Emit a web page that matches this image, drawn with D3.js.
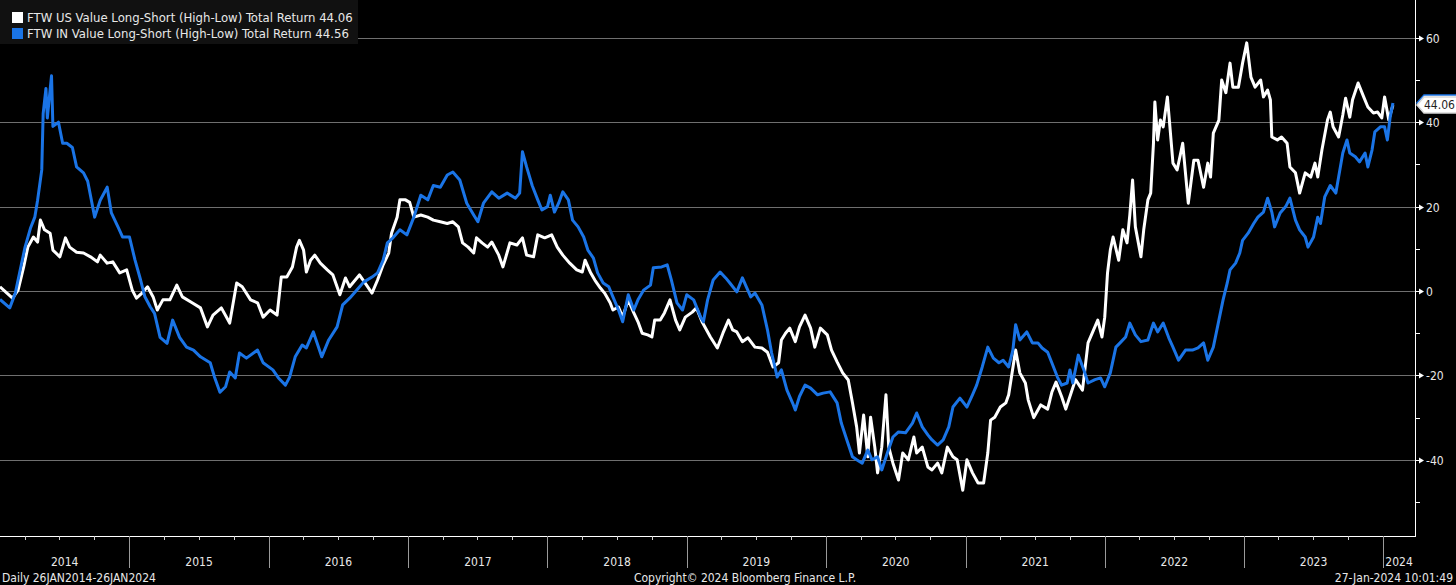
<!DOCTYPE html>
<html>
<head>
<meta charset="utf-8">
<title>FTW Value Long-Short</title>
<script src="https://cdn.jsdelivr.net/npm/d3@7"></script>
<style>
  html, body { margin: 0; padding: 0; background: #000; }
  svg { display: block; }
  text { font-family: "DejaVu Sans Condensed", "DejaVu Sans", sans-serif; }
</style>
</head>
<body>
<div id="diagram"></div>
<script>
// - - - - - - - - - -
// data (dates are decimal years, values in %)
const seriesNames = [
  'FTW US Value Long-Short (High-Low) Total Return',
  'FTW IN Value Long-Short (High-Low) Total Return'
];
const lastValues = [44.06, 44.56];
const yTicks = [60, 40, 20, 0, -20, -40];
const yMinorTicks = [50, 30, 10, -10, -30, -50];
const yearLabels = ['2014', '2015', '2016', '2017', '2018', '2019', '2020', '2021', '2022', '2023', '2024'];
const periodText = 'Daily 26JAN2014-26JAN2024';
const copyrightText = 'Copyright\u00A9 2024 Bloomberg Finance L.P.';
const stampText = '27-Jan-2024 10:01:49';

const usDates = [
  2014.07, 2014.12, 2014.16, 2014.20, 2014.24, 2014.27, 2014.31, 2014.34, 2014.36, 2014.39,
  2014.43, 2014.45, 2014.50, 2014.54, 2014.57, 2014.62, 2014.67, 2014.72, 2014.77, 2014.79,
  2014.84, 2014.88, 2014.93, 2014.98, 2015.02, 2015.05, 2015.09, 2015.13, 2015.17, 2015.20,
  2015.24, 2015.29, 2015.34, 2015.38, 2015.45, 2015.51, 2015.56, 2015.60, 2015.66, 2015.72,
  2015.74, 2015.77, 2015.81, 2015.87, 2015.92, 2015.96, 2016.01, 2016.06, 2016.09, 2016.13,
  2016.17, 2016.20, 2016.22, 2016.25, 2016.27, 2016.30, 2016.33, 2016.37, 2016.42, 2016.46,
  2016.51, 2016.55, 2016.58, 2016.62, 2016.65, 2016.69, 2016.74, 2016.78, 2016.82, 2016.86,
  2016.88, 2016.92, 2016.94, 2016.98, 2017.01, 2017.04, 2017.09, 2017.14, 2017.18, 2017.23,
  2017.28, 2017.32, 2017.36, 2017.39, 2017.43, 2017.47, 2017.49, 2017.53, 2017.57, 2017.60,
  2017.65, 2017.68, 2017.73, 2017.78, 2017.82, 2017.85, 2017.90, 2017.93, 2017.98, 2018.03,
  2018.07, 2018.11, 2018.16, 2018.21, 2018.25, 2018.27, 2018.31, 2018.34, 2018.38, 2018.41,
  2018.45, 2018.47, 2018.51, 2018.54, 2018.58, 2018.62, 2018.65, 2018.68, 2018.72, 2018.75,
  2018.77, 2018.81, 2018.84, 2018.88, 2018.92, 2018.95, 2018.99, 2019.04, 2019.07, 2019.11,
  2019.17, 2019.22, 2019.26, 2019.30, 2019.33, 2019.36, 2019.40, 2019.44, 2019.49, 2019.54,
  2019.58, 2019.62, 2019.66, 2019.68, 2019.71, 2019.74, 2019.78, 2019.81, 2019.85, 2019.89,
  2019.92, 2019.96, 2020.01, 2020.04, 2020.08, 2020.12, 2020.16, 2020.19, 2020.22, 2020.24,
  2020.27, 2020.30, 2020.32, 2020.35, 2020.37, 2020.40, 2020.43, 2020.45, 2020.48, 2020.52,
  2020.55, 2020.59, 2020.63, 2020.65, 2020.69, 2020.73, 2020.76, 2020.80, 2020.83, 2020.87,
  2020.91, 2020.94, 2020.98, 2021.01, 2021.05, 2021.09, 2021.13, 2021.16, 2021.18, 2021.21,
  2021.25, 2021.29, 2021.31, 2021.36, 2021.39, 2021.43, 2021.45, 2021.49, 2021.54, 2021.59,
  2021.62, 2021.65, 2021.69, 2021.72, 2021.76, 2021.79, 2021.84, 2021.88, 2021.92, 2021.95,
  2021.98, 2022.00, 2022.02, 2022.04, 2022.06, 2022.10, 2022.13, 2022.16, 2022.18, 2022.20,
  2022.22, 2022.26, 2022.28, 2022.31, 2022.33, 2022.35, 2022.36, 2022.38, 2022.40, 2022.42,
  2022.45, 2022.47, 2022.49, 2022.52, 2022.54, 2022.56, 2022.60, 2022.64, 2022.67, 2022.71,
  2022.74, 2022.76, 2022.78, 2022.82, 2022.84, 2022.87, 2022.90, 2022.92, 2022.96, 2022.99,
  2023.02, 2023.05, 2023.08, 2023.12, 2023.14, 2023.17, 2023.19, 2023.20, 2023.24, 2023.27,
  2023.31, 2023.33, 2023.37, 2023.40, 2023.44, 2023.48, 2023.51, 2023.53, 2023.56, 2023.60,
  2023.62, 2023.64, 2023.68, 2023.71, 2023.73, 2023.76, 2023.78, 2023.82, 2023.86, 2023.89,
  2023.93, 2023.96, 2023.99, 2024.01, 2024.04, 2024.06, 2024.07
];
const usValues = [
  1, -0.5, -1.7, 0.2, 5.7, 10.4, 12.8, 11.6, 16.8, 14.5,
  13.7, 9.7, 8.1, 12.6, 10.4, 9.2, 9, 8.1, 6.9, 8.5,
  6.6, 6.9, 4.3, 5, 0.2, -1.7, -0.5, 1, -1.4, -4.5,
  -2.1, -2.1, 1.4, -1.4, -2.8, -4, -8.5, -5.7, -4, -7.6,
  -3.8, 1.9, 1, -2.1, -2.8, -6.2, -4.5, -5.7, 3.3, 3.3,
  5.7, 10.4, 12, 9.7, 4.5, 7.3, 8.5, 6.6, 5, 3.8,
  -0.9, 3.1, 1, 2.6, 3.8, 1.9, -0.5, 2.6, 6.2, 9,
  13.7, 17.5, 21.6, 21.6, 21, 17.5, 18, 17.5, 16.8, 16.4,
  16, 16.4, 15.2, 11.4, 10.4, 9, 12.6, 11.4, 10.4, 11.6,
  8.5, 5.7, 11.4, 10.9, 12.6, 8.5, 8.1, 13.3, 12.6, 13.3,
  10.4, 8.5, 6.6, 5, 4.5, 7.3, 4.3, 2.6, 0.7, -0.5,
  -2.8, -4.5, -3.8, -6.2, -2.1, -5.2, -7.3, -10, -10.4, -10.9,
  -6.9, -6.9, -5.2, -2.1, -6.9, -9.2, -6.2, -5, -4, -7.3,
  -10.9, -13.5, -10, -6.9, -9.2, -9.7, -12, -11.1, -13.3, -13.5,
  -14.5, -18, -17, -11.6, -10, -8.8, -12, -8.5, -5.7, -8.8,
  -13.3, -8.8, -10.4, -14, -16.8, -19.4, -21.1, -26.5, -32.2, -38.4,
  -29.4, -39.3, -29.9, -37, -43.1, -37, -24.6, -37, -40.8, -44.8,
  -38.4, -40, -34.6, -38.4, -37, -41.7, -42.4, -40.8, -43.1, -37,
  -39.3, -40, -47.2, -40, -43.1, -45.5, -45.5, -38.4, -30.6, -29.9,
  -27.5, -26.5, -24.6, -14, -19.4, -21.8, -25.8, -30, -27, -28,
  -24, -21.6, -25, -28, -24, -21, -23.5, -12.3, -9.2, -6.9,
  -10.9, -6.2, 4.3, 9.7, 12.8, 7.3, 14.5, 11.4, 18, 26.3,
  15.2, 8.1, 14.5, 21.6, 23.2, 35, 44.8, 35.8, 40.5, 38.9,
  46, 38.2, 30.3, 28.7, 31.8, 35, 20.8, 31, 31, 24.6,
  30.3, 27, 37.4, 40.5, 50, 47, 54, 48.3, 48.3, 54,
  58.8, 50.7, 48.3, 50, 46, 47.6, 45.3, 36.5, 35.8, 36.5,
  35, 29.4, 28, 23.2, 28, 27, 30.3, 27, 33.4, 40.5,
  42.4, 38.9, 36.5, 41.7, 45.7, 41.2, 45.3, 49.3, 46, 43.6,
  42.2, 42.4, 41, 46, 40.5, 42.9, 44.06
];

const inDates = [
  2014.07, 2014.14, 2014.18, 2014.21, 2014.25, 2014.29, 2014.32, 2014.34, 2014.37, 2014.38,
  2014.40, 2014.41, 2014.44, 2014.45, 2014.49, 2014.52, 2014.55, 2014.59, 2014.62, 2014.67,
  2014.70, 2014.75, 2014.79, 2014.84, 2014.87, 2014.92, 2014.95, 2015.00, 2015.04, 2015.08,
  2015.11, 2015.15, 2015.18, 2015.22, 2015.27, 2015.31, 2015.36, 2015.41, 2015.46, 2015.51,
  2015.58, 2015.61, 2015.65, 2015.69, 2015.72, 2015.76, 2015.79, 2015.84, 2015.92, 2015.96,
  2016.03, 2016.07, 2016.12, 2016.15, 2016.19, 2016.24, 2016.27, 2016.32, 2016.38, 2016.43,
  2016.49, 2016.53, 2016.58, 2016.63, 2016.68, 2016.74, 2016.78, 2016.82, 2016.85, 2016.89,
  2016.94, 2016.99, 2017.04, 2017.09, 2017.14, 2017.18, 2017.23, 2017.28, 2017.32, 2017.37,
  2017.42, 2017.47, 2017.50, 2017.54, 2017.60, 2017.65, 2017.71, 2017.77, 2017.80, 2017.82,
  2017.85, 2017.89, 2017.93, 2017.96, 2018.00, 2018.02, 2018.05, 2018.08, 2018.11, 2018.15,
  2018.18, 2018.22, 2018.26, 2018.29, 2018.33, 2018.36, 2018.40, 2018.44, 2018.47, 2018.51,
  2018.54, 2018.58, 2018.62, 2018.65, 2018.69, 2018.74, 2018.76, 2018.82, 2018.86, 2018.89,
  2018.93, 2018.97, 2019.00, 2019.05, 2019.10, 2019.12, 2019.15, 2019.19, 2019.24, 2019.28,
  2019.31, 2019.36, 2019.40, 2019.46, 2019.49, 2019.54, 2019.58, 2019.61, 2019.65, 2019.68,
  2019.72, 2019.76, 2019.78, 2019.81, 2019.85, 2019.89, 2019.94, 2019.98, 2020.03, 2020.08,
  2020.11, 2020.15, 2020.19, 2020.22, 2020.26, 2020.30, 2020.33, 2020.37, 2020.40, 2020.44,
  2020.48, 2020.52, 2020.57, 2020.62, 2020.65, 2020.69, 2020.73, 2020.76, 2020.80, 2020.84,
  2020.88, 2020.91, 2020.96, 2021.01, 2021.05, 2021.08, 2021.12, 2021.16, 2021.20, 2021.24,
  2021.27, 2021.31, 2021.34, 2021.36, 2021.39, 2021.44, 2021.48, 2021.52, 2021.55, 2021.59,
  2021.62, 2021.66, 2021.69, 2021.73, 2021.75, 2021.77, 2021.81, 2021.85, 2021.88, 2021.93,
  2021.97, 2022.00, 2022.04, 2022.08, 2022.11, 2022.15, 2022.18, 2022.22, 2022.26, 2022.31,
  2022.35, 2022.38, 2022.42, 2022.46, 2022.49, 2022.53, 2022.58, 2022.63, 2022.67, 2022.71,
  2022.74, 2022.78, 2022.82, 2022.85, 2022.88, 2022.90, 2022.94, 2022.97, 2022.99, 2023.03,
  2023.07, 2023.10, 2023.14, 2023.17, 2023.20, 2023.22, 2023.26, 2023.30, 2023.33, 2023.37,
  2023.40, 2023.44, 2023.46, 2023.50, 2023.53, 2023.55, 2023.58, 2023.62, 2023.66, 2023.68,
  2023.71, 2023.74, 2023.76, 2023.80, 2023.83, 2023.87, 2023.89, 2023.92, 2023.94, 2023.98,
  2024.01, 2024.03, 2024.05, 2024.07
];
const inValues = [
  -2, -4, -0.5, 4.2, 10.4, 15, 17.5, 21.5, 28.7, 42,
  48, 41, 51, 39, 40, 35, 35, 34, 29.4, 28,
  26, 17.5, 21.5, 24.6, 18.5, 15, 12.8, 12.8, 7.3, 2.6,
  -1.3, -3.8, -5.3, -11, -12.4, -6.9, -11, -13.3, -14, -15.6,
  -17, -20.3, -24, -22.7, -19.2, -20.6, -14.7, -15.9, -14, -17,
  -18.7, -20.6, -22.3, -20.4, -15.6, -12.8, -13.5, -9.7, -15.6, -11.6,
  -8.5, -3.3, -1.7, 0.2, 2.1, 3.3, 4.3, 7.3, 11.4, 12.6,
  14.5, 13.3, 17.5, 22.7, 21.6, 25, 24.6, 27.5, 28.2, 26.3,
  20.8, 18, 16.4, 20.8, 23.5, 22, 23.2, 22, 23.2, 33,
  29.4, 25, 21.6, 19.2, 20, 22.7, 18.7, 20.8, 23.5, 21.6,
  16.8, 15.2, 12.8, 9.7, 7.8, 4.3, 1.9, 1, -1.4, -4.5,
  -7.3, -0.9, -4.5, -2.1, 0.2, 1.4, 5.5, 5.7, 6.2, 2.6,
  -2.8, -4.5, -0.9, -2.1, -6.2, -7.3, -2.1, 2.6, 4.5, 3.1,
  1.9, -0.2, 3.1, -1.4, -0.5, -3.3, -9.2, -14.7, -20.4, -18.7,
  -23.5, -26.5, -28.2, -25, -22.3, -23, -24.6, -24.2, -23.9, -26.5,
  -31.3, -35.3, -39.3, -40, -40.8, -37.7, -40, -39.3, -42.4, -38.4,
  -34.6, -33.4, -33.6, -31.3, -28.9, -32.2, -34.1, -35.3, -36.5, -35.3,
  -32.2, -27.5, -25.4, -27.5, -24.6, -22.3, -18, -13.3, -15.9, -17,
  -16.4, -18, -14, -8, -11.6, -9.7, -12.3, -12.3, -13.5, -14.5,
  -17, -20.4, -22.3, -21.8, -18.7, -21.8, -15.2, -18.7, -21.8, -21,
  -20.6, -22.7, -19.4, -13.3, -12.3, -10.9, -7.6, -10.4, -12, -11.6,
  -7.6, -9.7, -7.6, -11.1, -13.3, -16.4, -14, -14, -13.5, -12.3,
  -16.4, -13.3, -6.9, -2.1, 1.9, 5, 6.6, 9, 12, 13.7,
  16, 17.5, 18.7, 22, 18.7, 15.2, 18.5, 20, 22, 16.8,
  14.5, 12.8, 10.4, 12.8, 17.5, 16, 22.3, 25, 23.2, 27,
  32.7, 35.8, 32.7, 31.8, 30.6, 32.7, 29.4, 33.4, 37.7, 38.9,
  38.9, 35.8, 41.2, 44.56
];

// - - - - - - - - - -
!(function () {
  'use strict'
  // declaration
  let
    canvas = undefined,
    svg = undefined,
    xScale = undefined,
    yScale = undefined,
    line = undefined,
    toDate = undefined,
    usData = undefined,
    inData = undefined,
    years = undefined,
    quarters = undefined,
    drawTag = undefined;

  canvas = {
    width: 1456,
    height: 585,
    plot: { left: 0, top: 0, right: 1415, bottom: 536 },
    colors: { us: '#ffffff', in: '#1a74e6', grid: '#6f6f6f', text: '#e8e8e8' }
  };

  // decimal year -> UTC date
  toDate = function (t) {
    const y = Math.floor(t),
      start = Date.UTC(y, 0, 1),
      end = Date.UTC(y + 1, 0, 1);
    return new Date(start + (t - y) * (end - start));
  };

  usData = usDates.map(function (d, i) { return { date: toDate(d), value: usValues[i] }; });
  inData = inDates.map(function (d, i) { return { date: toDate(d), value: inValues[i] }; });

  // scales
  xScale = d3.scaleUtc()
    .domain([toDate(2014.07), toDate(2024.228)])
    .range([canvas.plot.left, canvas.plot.right]);

  yScale = d3.scaleLinear()
    .domain([-58.06, 68.96])
    .range([canvas.plot.bottom, canvas.plot.top]);

  line = d3.line()
    .x(function (d) { return xScale(d.date); })
    .y(function (d) { return yScale(d.value); });

  // process
  svg = d3.select('#diagram')
    .append('svg')
    .attr('width', canvas.width)
    .attr('height', canvas.height)
    .style('background', '#000');

  svg.append('defs').append('clipPath')
    .attr('id', 'plotClip')
    .append('rect')
    .attr('x', canvas.plot.left)
    .attr('y', canvas.plot.top)
    .attr('width', canvas.plot.right - canvas.plot.left)
    .attr('height', canvas.plot.bottom - canvas.plot.top);

  // grid
  svg.append('g')
    .selectAll('line')
    .data(yTicks)
    .join('line')
    .attr('x1', canvas.plot.left)
    .attr('x2', canvas.plot.right)
    .attr('y1', function (d) { return Math.round(yScale(d)) + 0.5; })
    .attr('y2', function (d) { return Math.round(yScale(d)) + 0.5; })
    .attr('stroke', canvas.colors.grid)
    .attr('stroke-width', 1);

  // series
  const lines = svg.append('g').attr('clip-path', 'url(#plotClip)');
  lines.append('path')
    .datum(usData)
    .attr('d', line)
    .attr('fill', 'none')
    .attr('stroke', canvas.colors.us)
    .attr('stroke-width', 3)
    .attr('stroke-linejoin', 'round');
  lines.append('path')
    .datum(inData)
    .attr('d', line)
    .attr('fill', 'none')
    .attr('stroke', canvas.colors.in)
    .attr('stroke-width', 3)
    .attr('stroke-linejoin', 'round');

  // right axis
  const yAxis = svg.append('g');
  yAxis.append('line')
    .attr('x1', canvas.plot.right + 0.5).attr('x2', canvas.plot.right + 0.5)
    .attr('y1', 0).attr('y2', canvas.plot.bottom + 1)
    .attr('stroke', '#fff');
  yAxis.selectAll('.minor')
    .data(yMinorTicks)
    .join('line')
    .attr('x1', canvas.plot.right).attr('x2', canvas.plot.right + 5)
    .attr('y1', function (d) { return Math.round(yScale(d)) + 0.5; })
    .attr('y2', function (d) { return Math.round(yScale(d)) + 0.5; })
    .attr('stroke', '#fff');
  const major = yAxis.selectAll('.major')
    .data(yTicks)
    .join('g')
    .attr('transform', function (d) { return 'translate(' + canvas.plot.right + ',' + (Math.round(yScale(d)) + 0.5) + ')'; });
  major.append('line')
    .attr('x1', 0).attr('x2', 5)
    .attr('stroke', '#fff');
  major.append('path')
    .attr('d', 'M4,-3L9,0L4,3Z')
    .attr('fill', '#fff');
  major.append('text')
    .attr('x', 11)
    .attr('dy', '0.36em')
    .attr('fill', canvas.colors.text)
    .style('font-size', '12px')
    .text(function (d) { return d; });

  // bottom axis
  const xAxis = svg.append('g');
  years = d3.utcYear.range(d3.utcYear.ceil(xScale.domain()[0]), xScale.domain()[1]);
  quarters = d3.utcMonth.every(3).range(xScale.domain()[0], xScale.domain()[1]);
  xAxis.append('line')
    .attr('x1', 0).attr('x2', canvas.plot.right + 1)
    .attr('y1', canvas.plot.bottom + 0.5).attr('y2', canvas.plot.bottom + 0.5)
    .attr('stroke', '#fff');
  xAxis.selectAll('.q')
    .data(quarters)
    .join('line')
    .attr('x1', function (d) { return Math.round(xScale(d)) + 0.5; })
    .attr('x2', function (d) { return Math.round(xScale(d)) + 0.5; })
    .attr('y1', canvas.plot.bottom)
    .attr('y2', canvas.plot.bottom + 4)
    .attr('stroke', '#cfcfcf');
  xAxis.selectAll('.yr')
    .data(years)
    .join('line')
    .attr('x1', function (d) { return Math.round(xScale(d)) + 0.5; })
    .attr('x2', function (d) { return Math.round(xScale(d)) + 0.5; })
    .attr('y1', canvas.plot.bottom)
    .attr('y2', canvas.plot.bottom + 32)
    .attr('stroke', '#9a9a9a');
  const bounds = [xScale.domain()[0]].concat(years, [xScale.domain()[1]]);
  xAxis.selectAll('.yl')
    .data(yearLabels)
    .join('text')
    .attr('x', function (d, i) { return (xScale(bounds[i]) + xScale(bounds[i + 1])) / 2; })
    .attr('y', 566)
    .attr('text-anchor', 'middle')
    .attr('fill', canvas.colors.text)
    .style('font-size', '12px')
    .text(function (d) { return d; });

  // footer
  svg.append('text').attr('x', 2).attr('y', 582)
    .attr('fill', canvas.colors.text).style('font-size', '12px').text(periodText);
  svg.append('text').attr('x', 745).attr('y', 582).attr('text-anchor', 'middle')
    .attr('fill', canvas.colors.text).style('font-size', '12px').text(copyrightText);
  svg.append('text').attr('x', 1453).attr('y', 582).attr('text-anchor', 'end')
    .attr('fill', canvas.colors.text).style('font-size', '12px').text(stampText);

  // last value tags
  drawTag = function (value, stroke, showText) {
    const y = yScale(value), x0 = canvas.plot.right + 2;
    const g = svg.append('g');
    g.append('path')
      .attr('d', 'M' + x0 + ',' + y + 'L' + (x0 + 7) + ',' + (y - 8) + 'L1457,' + (y - 8) +
        'L1457,' + (y + 8) + 'L' + (x0 + 7) + ',' + (y + 8) + 'Z')
      .attr('fill', '#fff')
      .attr('stroke', stroke)
      .attr('stroke-width', 1.5);
    if (showText) {
      g.append('text')
        .attr('x', x0 + 7).attr('y', y).attr('dy', '0.36em')
        .attr('fill', '#1e1e1e').style('font-size', '12px')
        .text(value.toFixed(2));
    }
  };
  drawTag(lastValues[1], canvas.colors.in, false);
  drawTag(lastValues[0], '#d8d8d8', true);

  // legend
  const legend = svg.append('g');
  legend.append('rect')
    .attr('x', 0).attr('y', 0).attr('width', 358).attr('height', 44)
    .attr('fill', '#111');
  const rows = legend.selectAll('.row')
    .data(seriesNames)
    .join('g')
    .attr('transform', function (d, i) { return 'translate(0,' + (i * 16) + ')'; });
  rows.append('rect')
    .attr('x', 12).attr('y', 12).attr('width', 11).attr('height', 11)
    .attr('fill', function (d, i) { return i === 0 ? canvas.colors.us : canvas.colors.in; });
  rows.append('text')
    .attr('x', 27).attr('y', 22)
    .attr('fill', canvas.colors.text)
    .style('font-size', '13px')
    .text(function (d, i) { return d + ' ' + lastValues[i].toFixed(2); });

  // - - - - - - - - - -
}())
</script>
</body>
</html>
